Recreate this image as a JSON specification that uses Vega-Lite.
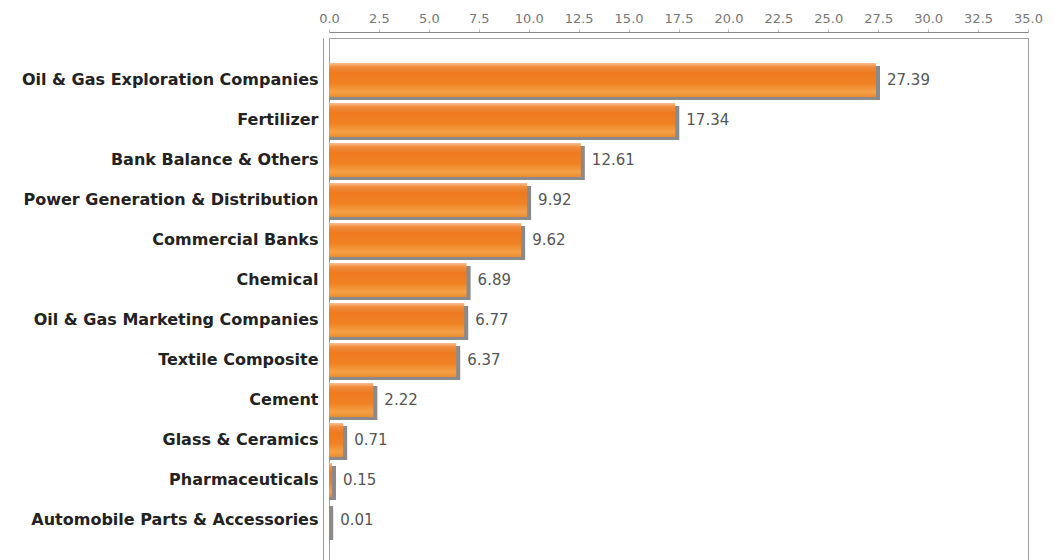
{
  "$schema": "https://vega.github.io/schema/vega-lite/v6.json",
  "autosize": "none",
  "width": 699,
  "height": 524,
  "padding": {"left": 329, "top": 38, "right": 27, "bottom": 0},
  "background": "white",
  "config": {
    "view": {"stroke": "#a0a0a0", "strokeWidth": 1},
    "font": "DejaVu Sans"
  },
  "data": {
    "values": [
      {"sector": "Oil & Gas Exploration Companies", "value": 27.39},
      {"sector": "Fertilizer", "value": 17.34},
      {"sector": "Bank Balance & Others", "value": 12.61},
      {"sector": "Power Generation & Distribution", "value": 9.92},
      {"sector": "Commercial Banks", "value": 9.62},
      {"sector": "Chemical", "value": 6.89},
      {"sector": "Oil & Gas Marketing Companies", "value": 6.77},
      {"sector": "Textile Composite", "value": 6.37},
      {"sector": "Cement", "value": 2.22},
      {"sector": "Glass & Ceramics", "value": 0.71},
      {"sector": "Pharmaceuticals", "value": 0.15},
      {"sector": "Automobile Parts & Accessories", "value": 0.01}
    ]
  },
  "encoding": {
    "y": {
      "field": "sector",
      "type": "nominal",
      "sort": null,
      "scale": {"paddingInner": 0.15, "paddingOuter": 0.625},
      "axis": {
        "title": null,
        "orient": "left",
        "offset": 6,
        "domainColor": "#999999",
        "ticks": false,
        "labelPadding": 5,
        "labelFont": "DejaVu Sans",
        "labelFontWeight": "bold",
        "labelFontSize": 16,
        "labelColor": "#222222",
        "labelLimit": 400
      }
    },
    "x": {
      "field": "value",
      "type": "quantitative",
      "scale": {"domain": [0, 35], "nice": false},
      "axis": {
        "title": null,
        "orient": "top",
        "offset": 6,
        "values": [0, 2.5, 5, 7.5, 10, 12.5, 15, 17.5, 20, 22.5, 25, 27.5, 30, 32.5, 35],
        "format": ".1f",
        "grid": false,
        "labelFlush": false,
        "labelOverlap": false,
        "domainColor": "#888888",
        "tickColor": "#bbbbbb",
        "tickSize": 3,
        "labelPadding": 4,
        "labelFont": "DejaVu Sans",
        "labelFontSize": 13,
        "labelColor": "#777777"
      }
    }
  },
  "layer": [
    {
      "mark": {"type": "bar", "color": "#8a8a8a", "xOffset": 4, "x2Offset": 0, "yOffset": 3, "y2Offset": 3, "cornerRadius": 0},
      "encoding": {
        "x": {"field": "value", "type": "quantitative", "stack": null},
        "x2": {"datum": 0}
      }
    },
    {
      "mark": {
        "type": "bar",
        "color": {
          "gradient": "linear",
          "x1": 0, "y1": 0, "x2": 0, "y2": 1,
          "stops": [
            {"offset": 0, "color": "#f8c090"},
            {"offset": 0.12, "color": "#f08a3a"},
            {"offset": 0.3, "color": "#ee7a20"},
            {"offset": 0.6, "color": "#f08224"},
            {"offset": 0.85, "color": "#f5a048"},
            {"offset": 1, "color": "#e98a30"}
          ]
        }
      }
    },
    {
      "mark": {"type": "text", "align": "left", "baseline": "middle", "dx": 11, "font": "DejaVu Sans", "fontSize": 15, "color": "#555555"},
      "encoding": {"text": {"field": "value", "type": "quantitative", "format": ".2f"}}
    }
  ]
}
